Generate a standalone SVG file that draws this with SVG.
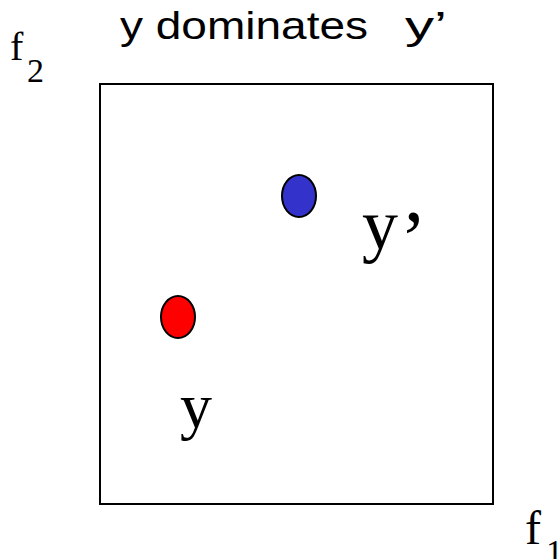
<svg xmlns="http://www.w3.org/2000/svg" width="559" height="559" viewBox="0 0 559 559">
<style>
.serif{font-family:"Liberation Serif","Times New Roman",serif;fill:#000}
.sans{font-family:"Liberation Sans",Arial,sans-serif;fill:#000}
.pt{stroke:#000;stroke-width:2}
</style>
<rect width="559" height="559" fill="#fff"/>
<g id="title">
<text class="sans" x="120" y="39" font-size="39" textLength="248" lengthAdjust="spacingAndGlyphs">y dominates</text>
<text class="sans" x="405" y="39" font-size="39" textLength="42" lengthAdjust="spacingAndGlyphs">y’</text>
</g>
<g id="axis-f2"><text class="serif" x="10" y="60" font-size="40">f<tspan font-size="34" x="27" y="82">2</tspan></text></g>
<g id="axis-f1"><text class="serif" x="525" y="544" font-size="48">f<tspan font-size="34" x="546" y="563">1</tspan></text></g>
<g id="box"><rect x="100" y="84" width="393" height="420" fill="none" stroke="#000" stroke-width="2"/></g>
<g id="point-yprime">
<ellipse class="pt" cx="299" cy="196" rx="17" ry="21" fill="#3333cc"/>
<text class="serif" x="362" y="249" font-size="72">y<tspan x="400" y="266" font-size="80">’</tspan></text>
</g>
<g id="point-y">
<ellipse class="pt" cx="178" cy="317" rx="17" ry="21" fill="#ff0000"/>
<text class="serif" x="180" y="427" font-size="64">y</text>
</g>
<g id="connectors"></g>
</svg>
